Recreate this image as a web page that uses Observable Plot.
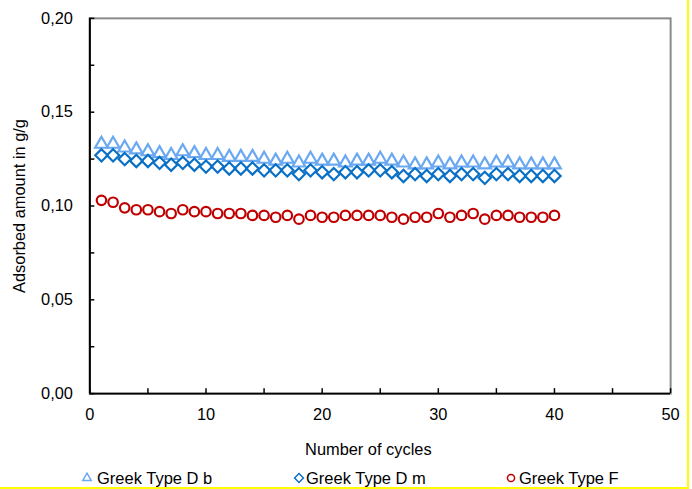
<!DOCTYPE html>
<html>
<head>
<meta charset="utf-8">
<script src="https://cdn.jsdelivr.net/npm/d3@7"></script>
<script src="https://cdn.jsdelivr.net/npm/@observablehq/plot@0.6"></script>
<style>
  html, body { margin: 0; padding: 0; background: #fff; }
  #wrap { position: relative; width: 687px; height: 487px; border-right: 2px solid #ffff00; border-bottom: 2px solid #ffff00; overflow: hidden; font-family: "Liberation Sans", Arial, sans-serif; }
  #chart { height: 468px; }
  #legend { position: absolute; left: 0; top: 469px; width: 687px; height: 18px; font-size: 16.5px; color: #000; }
  .item { position: absolute; top: 0; white-space: nowrap; line-height: 18px; height: 18px; }
  .item svg { position: absolute; top: 3px; }
</style>
</head>
<body>
<div id="wrap">
  <div id="chart"></div>
  <div id="legend"></div>
</div>
<script>
const cycles = [1,2,3,4,5,6,7,8,9,10,11,12,13,14,15,16,17,18,19,20,21,22,23,24,25,26,27,28,29,30,31,32,33,34,35,36,37,38,39,40];
const typeDb = [0.133,0.133,0.131,0.130,0.129,0.128,0.127,0.129,0.128,0.127,0.127,0.126,0.126,0.126,0.125,0.124,0.125,0.123,0.125,0.124,0.124,0.123,0.124,0.124,0.125,0.124,0.123,0.122,0.122,0.123,0.122,0.123,0.123,0.122,0.123,0.123,0.122,0.122,0.122,0.122];
const typeDm = [0.127,0.127,0.125,0.124,0.124,0.123,0.122,0.123,0.122,0.121,0.121,0.120,0.120,0.120,0.119,0.119,0.119,0.117,0.119,0.118,0.117,0.118,0.118,0.119,0.119,0.118,0.116,0.117,0.116,0.117,0.116,0.117,0.117,0.115,0.117,0.117,0.116,0.116,0.116,0.116];
const typeF  = [0.103,0.102,0.099,0.098,0.098,0.097,0.096,0.098,0.097,0.097,0.096,0.096,0.096,0.095,0.095,0.094,0.095,0.093,0.095,0.094,0.094,0.095,0.095,0.095,0.095,0.094,0.093,0.094,0.094,0.096,0.094,0.095,0.096,0.093,0.095,0.095,0.094,0.094,0.094,0.095];
const seriesNames = ["Greek Type D b", "Greek Type D m", "Greek Type F"];
const xTicks = [0,5,10,15,20,25,30,35,40,45,50];
const xLabelTicks = [0,10,20,30,40,50];
const yTicks = [0,0.025,0.05,0.075,0.1,0.125,0.15,0.175,0.2];
const yLabelTicks = [0,0.05,0.1,0.15,0.2];

const colors = ["#6aa8f2", "#0a70c6", "#c00000"];
const symbols = ["triangle2", "diamond2", "circle"];
const radii = [6.1, 5.6, 4.8];
const values = [typeDb, typeDm, typeF];

const fmtY = d => yLabelTicks.some(t => Math.abs(t - d) < 1e-9) ? d.toFixed(2).replace(".", ",") : "";
const fmtX = d => xLabelTicks.includes(d) ? String(d) : "";

const dotMarks = values.map((vals, k) =>
  Plot.dot(vals, {
    x: (d, i) => cycles[i],
    y: d => d,
    symbol: () => symbols[k],
    r: radii[k],
    stroke: colors[k],
    strokeWidth: 2.2,
    fill: "none"
  })
);

const chart = Plot.plot({
  width: 692,
  height: 468,
  marginLeft: 90,
  marginRight: 17,
  marginTop: 18,
  marginBottom: 72,
  style: { fontFamily: "'Liberation Sans', Arial, sans-serif", fontSize: "16.5px", color: "#000", background: "#fff" },
  x: { domain: [0, 50] },
  y: { domain: [0, 0.2] },
  symbol: { type: "identity" },
  marks: [
    Plot.frame({ stroke: "#898989", strokeWidth: 2 }),
    Plot.ruleX([0], { stroke: "#000", strokeWidth: 2 }),
    Plot.ruleY([0], { stroke: "#000", strokeWidth: 2 }),
    Plot.axisY({ ticks: yTicks, tickSize: -5, tickPadding: 22, tickFormat: fmtY, label: "Adsorbed amount in g/g", labelAnchor: "center", labelOffset: 77, labelArrow: "none", strokeWidth: 1.5 }),
    Plot.axisX({ ticks: xTicks, tickSize: -5, tickPadding: 20, tickFormat: fmtX, label: "Number of cycles", labelAnchor: "center", labelOffset: 62, labelArrow: "none", strokeWidth: 1.5 }),
    ...dotMarks
  ]
});
document.getElementById("chart").appendChild(chart);
// nudge x-axis label left to match reference centring
chart.querySelectorAll("g[aria-label='x-axis label'] text").forEach(t => {
  t.setAttribute("dx", "-12");
});

// legend
const legend = document.getElementById("legend");
const legendPos = [[81, 97], [293, 306], [505, 519]];
seriesNames.forEach((name, k) => {
  const sym = d3.symbol(k === 0 ? d3.symbolTriangle2 : k === 1 ? d3.symbolDiamond2 : d3.symbolCircle, k === 2 ? 40 : 50)();
  const item = document.createElement("div");
  item.className = "item";
  item.style.left = legendPos[k][0] + "px";
  item.style.width = "200px";
  item.innerHTML = `<svg width="12" height="12" viewBox="-6 -6 12 12"><path d="${sym}" fill="none" stroke="${colors[k]}" stroke-width="1.5"/></svg><span style="position:absolute;left:${legendPos[k][1]-legendPos[k][0]}px">${name}</span>`;
  legend.appendChild(item);
});
</script>
</body>
</html>
